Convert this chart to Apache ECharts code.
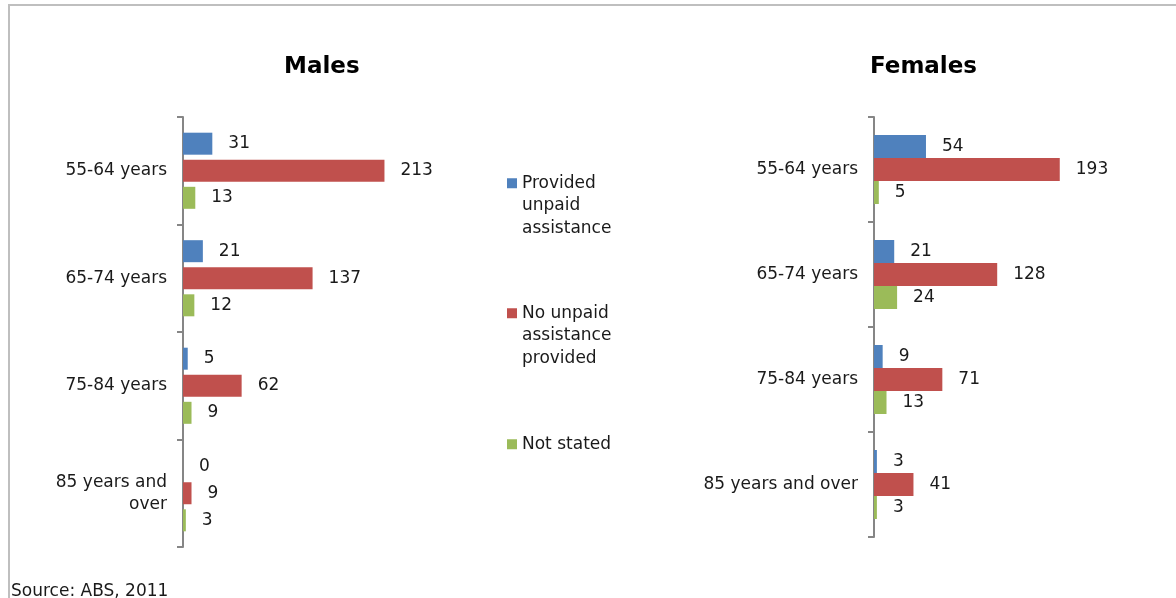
<!DOCTYPE html>
<html lang="en">

<head>
    <meta charset="UTF-8">
    <title>Unpaid assistance by age and sex</title>
    <script src="https://cdn.jsdelivr.net/npm/echarts/dist/echarts.min.js"></script>
    <style>
        body { margin: 0; background: #fff; }
        #main { width: 1176px; height: 598px; }
    </style>
</head>

<body>
    <div id="main"></div>

    <script>
        // data
        const maleAges = ['55-64 years', '65-74 years', '75-84 years', '85 years and\nover'];
        const femaleAges = ['55-64 years', '65-74 years', '75-84 years', '85 years and over'];
        const seriesNames = ['Provided unpaid assistance', 'No unpaid assistance provided', 'Not stated'];
        const maleProvided = [31, 21, 5, 0];
        const maleNotProvided = [213, 137, 62, 9];
        const maleNotStated = [13, 12, 9, 3];
        const femaleProvided = [54, 21, 9, 3];
        const femaleNotProvided = [193, 128, 71, 41];
        const femaleNotStated = [5, 24, 13, 3];

        const colors = ['#4F81BD', '#C0504D', '#9BBB59'];
        const font = 'DejaVu Sans';

        const chart = echarts.init(document.getElementById('main'));

        function yAxisFor(idx, cats) {
            return {
                type: 'category',
                gridIndex: idx,
                inverse: true,
                data: cats,
                axisLine: { show: true, lineStyle: { color: '#868686', width: 2 } },
                axisTick: { show: true, interval: 0, length: 6, lineStyle: { color: '#868686', width: 2 } },
                axisLabel: { color: '#1a1a1a', fontFamily: font, fontSize: 17, margin: 16, lineHeight: 22 }
            };
        }

        function barSeries(idx, name, data, color, width, gap) {
            return {
                name: name,
                type: 'bar',
                xAxisIndex: idx,
                yAxisIndex: idx,
                data: data,
                barWidth: width,
                barGap: gap,
                itemStyle: { color: color },
                label: {
                    show: true,
                    position: 'right',
                    distance: 16,
                    color: '#1a1a1a',
                    fontFamily: font,
                    fontSize: 17
                }
            };
        }

        // icon sits on the first line of text, so pad the text with leading blank lines
        function legendFor(name, top) {
            return {
                orient: 'vertical',
                left: 507,
                top: top,
                padding: 0,
                data: [name],
                icon: 'rect',
                itemWidth: 10,
                itemHeight: 10,
                itemGap: 0,
                formatter: n => n.replace('Provided unpaid ', '\n\nProvided\nunpaid\n')
                    .replace('No unpaid assistance ', '\n\nNo unpaid\nassistance\n'),
                textStyle: { color: '#1a1a1a', fontFamily: font, fontSize: 17, lineHeight: 22.5 }
            };
        }

        const titleStyle = { fontFamily: font, fontSize: 23, fontWeight: 'bold', color: '#000' };

        const option = {
            animation: false,
            title: [
                { text: 'Males', left: 284, top: 56, padding: 0, textStyle: titleStyle },
                { text: 'Females', left: 870, top: 56, padding: 0, textStyle: titleStyle }
            ],
            legend: [
                legendFor(seriesNames[0], 127),
                legendFor(seriesNames[1], 257),
                legendFor(seriesNames[2], 433)
            ],
            grid: [
                { left: 183, top: 117, width: 227, height: 430 },
                { left: 874, top: 117, width: 231, height: 420 }
            ],
            xAxis: [
                { type: 'value', gridIndex: 0, min: 0, max: 240, show: false },
                { type: 'value', gridIndex: 1, min: 0, max: 240, show: false }
            ],
            yAxis: [yAxisFor(0, maleAges), yAxisFor(1, femaleAges)],
            series: [
                barSeries(0, seriesNames[0], maleProvided, colors[0], 22, '23%'),
                barSeries(0, seriesNames[1], maleNotProvided, colors[1], 22, '23%'),
                barSeries(0, seriesNames[2], maleNotStated, colors[2], 22, '23%'),
                barSeries(1, seriesNames[0], femaleProvided, colors[0], 23, '0%'),
                barSeries(1, seriesNames[1], femaleNotProvided, colors[1], 23, '0%'),
                barSeries(1, seriesNames[2], femaleNotStated, colors[2], 23, '0%')
            ],
            graphic: [
                {
                    type: 'rect',
                    shape: { x: 9, y: 5, width: 1300, height: 700 },
                    style: { fill: 'none', stroke: '#BFBFBF', lineWidth: 2 }
                },
                {
                    type: 'text',
                    left: 11,
                    top: 583,
                    style: { text: 'Source: ABS, 2011', font: '17px "DejaVu Sans"', fill: '#1a1a1a' }
                }
            ]
        };

        chart.setOption(option);
    </script>
</body>

</html>
